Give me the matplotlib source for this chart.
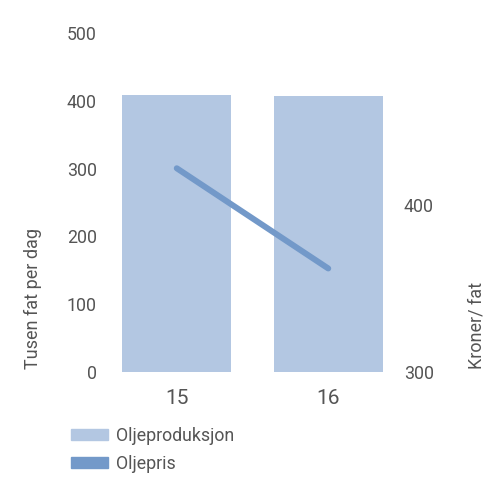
import matplotlib
matplotlib.use('Agg')
import matplotlib.pyplot as plt
from matplotlib.patches import Patch

plt.rcParams['font.family'] = ['Roboto', 'DejaVu Sans']

years = ['15', '16']
production = [409, 407]      # tusen fat per dag
price = [422, 362]           # kroner per fat
left_ticks = [0, 100, 200, 300, 400, 500]
right_ticks = [300, 400]

bar_color = '#b3c7e2'
line_color = '#7399c9'
text_color = '#555555'

fig = plt.figure(figsize=(5, 5), dpi=100)
ax = fig.add_axes([0.202, 0.256, 0.606, 0.678])
x = range(len(years))
ax.bar(x, production, width=0.72, color=bar_color, zorder=1)
ax.set_xlim(-0.5, 1.5)
ax.set_ylim(0, 500)
ax.set_yticks(left_ticks)
ax.set_xticks(list(x))
ax.set_xticklabels(years, fontsize=15, color=text_color)
ax.tick_params(axis='y', length=0, pad=3, labelsize=12.8, labelcolor=text_color)
ax.tick_params(axis='x', length=0, pad=12)
ax.set_ylabel('Tusen fat per dag', fontsize=13, color=text_color)
ax.yaxis.set_label_coords(-0.195, 0.01, transform=ax.transAxes)
ax.yaxis.label.set_va('bottom')
ax.yaxis.label.set_ha('left')

ax2 = ax.twinx()
ax2.plot(list(x), price, color=line_color, lw=4.3, solid_capstyle='round', zorder=3)
ax2.set_ylim(300, 503)
ax2.set_yticks(right_ticks)
ax2.tick_params(axis='y', length=0, pad=0, labelsize=12.8, labelcolor=text_color)
ax2.set_ylabel('Kroner/ fat', fontsize=13, color=text_color)
ax2.yaxis.set_label_coords(1.21, 0.01, transform=ax.transAxes)
ax2.yaxis.label.set_va('top')
ax2.yaxis.label.set_ha('left')

for a in (ax, ax2):
    for s in a.spines.values():
        s.set_visible(False)

handles = [Patch(color=bar_color, label='Oljeproduksjon'),
           Patch(color=line_color, label='Oljepris')]
leg = fig.legend(handles=handles, loc='upper left', bbox_to_anchor=(0.128, 0.16),
                 frameon=False, fontsize=12.8, handlelength=2.05, handleheight=0.6,
                 labelspacing=0.55, handletextpad=0.45, borderaxespad=0)
for t in leg.get_texts():
    t.set_color(text_color)

fig.savefig('out.png', dpi=100)
